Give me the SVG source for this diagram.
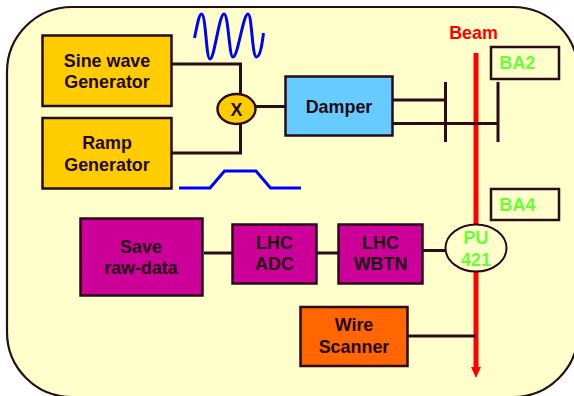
<svg xmlns="http://www.w3.org/2000/svg" width="574" height="396" viewBox="0 0 574 396">
<style>
text{font-family:"Liberation Sans",Arial,sans-serif;font-weight:bold;font-size:17.900px;fill:#1f0a14;text-anchor:middle}
.box{stroke:#2b0a1a;stroke-width:2.5}
.w{fill:none;stroke:#2b0a1a;stroke-width:3}
.b{fill:none;stroke:#0000ff;stroke-width:3}
.g{fill:#66ff33}
.y{fill:#ffcc00}
.m{fill:#cc0099}
</style>
<rect width="574" height="396" fill="#fff"/>
<rect x="7" y="7" width="571" height="390" rx="65" ry="65" fill="#ffffcc" stroke="#2b0a1a" stroke-width="2.2"/>
<g id="connectors">
<path class="b" d="M194.500 38C197 26 199 14 201.500 14C206 14 206 59 210 59C214.500 59 219 14 224 14C228.500 14 229 57 233 57C238 57 243 14 248 14C252 14 252 57 256.500 57C260 57 262 45 263.500 33"/>
<path class="b" d="M179 188H210L224.500 171H256L270.500 188H301"/>
<path d="M476 53V368" fill="none" stroke="#ff0000" stroke-width="5"/>
<path d="M471 367H481L476 378Z" fill="#ff0000"/>
<path class="w" d="M172 64H240.500V95M172 153H240.500V124M256 106.500H286M393 100H445M393 123.500H498M204 253H232M317 253H338M421 250.500H445M408 336H476M445.500 82V142M498 82V142"/>
</g>
<text x="473.500" y="38.500" style="fill:#ff0000">Beam</text>
<g id="sine"><rect class="box y" x="42.500" y="35.500" width="129" height="70.500"/><text x="107" y="67">Sine wave</text><text x="107" y="88">Generator</text></g>
<g id="ramp"><rect class="box y" x="42.500" y="118" width="129" height="70.500"/><text x="107" y="149">Ramp</text><text x="107" y="171">Generator</text></g>
<g id="mixer"><ellipse class="box y" cx="236.500" cy="109" rx="19" ry="15"/><text x="236.500" y="115.500">X</text></g>
<g id="damper"><rect class="box" fill="#66ccff" x="285.500" y="76.500" width="107" height="59"/><text x="339" y="113">Damper</text></g>
<g id="ba2"><rect class="box" fill="#ffffcc" x="491" y="47" width="68" height="32"/><text class="g" x="517.500" y="68.500">BA2</text></g>
<g id="ba4"><rect class="box" fill="#ffffcc" x="491" y="189" width="68" height="31"/><text class="g" x="517.500" y="211">BA4</text></g>
<g id="save"><rect class="box m" x="80.500" y="218.500" width="122" height="77"/><text x="141" y="253">Save</text><text x="141" y="273.500">raw-data</text></g>
<g id="adc"><rect class="box m" x="232.500" y="224.500" width="84" height="59"/><text x="274.500" y="249">LHC</text><text x="274.500" y="270">ADC</text></g>
<g id="wbtn"><rect class="box m" x="338.500" y="224.500" width="84" height="59"/><text x="380.500" y="249">LHC</text><text x="380.500" y="270">WBTN</text></g>
<g id="pu"><ellipse cx="476" cy="248" rx="30.500" ry="23.500" fill="#ffffcc" stroke="#2b0a1a" stroke-width="2"/><text class="g" x="476" y="244">PU</text><text class="g" x="476" y="266">421</text></g>
<g id="wire"><rect class="box" fill="#ff6600" x="300.500" y="307" width="107" height="59"/><text x="354" y="331">Wire</text><text x="354" y="353">Scanner</text></g>
</svg>
